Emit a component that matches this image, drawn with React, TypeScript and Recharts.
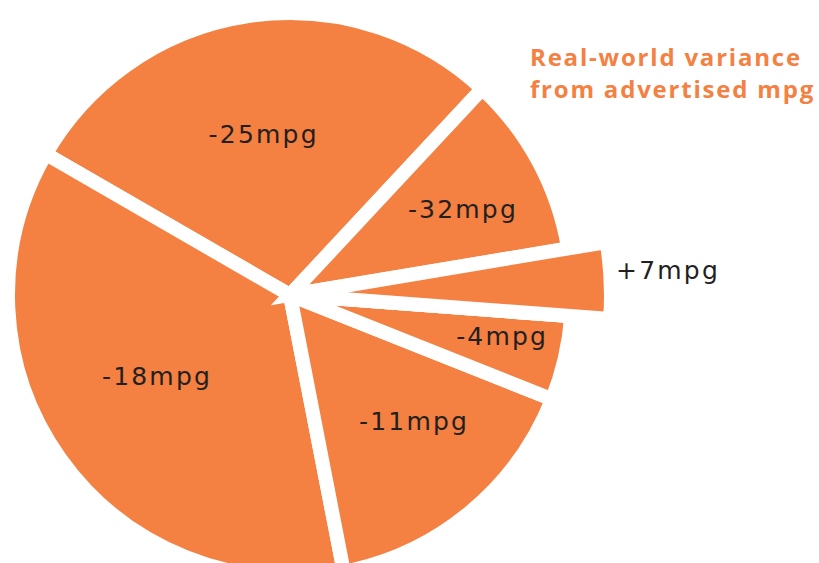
import React from 'react'
import { PieChart, Pie, Cell } from 'recharts'

const WIDTH = 819
const HEIGHT = 563
const ORANGE = '#F48042'
const TEXT = '#231F20'
const CX = 285
const CY = 290
const R = 282

// slices in counter-clockwise order, starting at the top-right gap
const labels = ['-25mpg', '-18mpg', '-11mpg', '-4mpg', '+7mpg', '-32mpg']
// share of the circle each slice takes (read as degrees off the picture)
const shares = [103, 131, 57.3, 17.4, 13.8, 37.5]
const highlighted = '+7mpg'

const data = labels.map((name, i) => ({ name, share: shares[i] }))

// label placement: distance from centre (fraction of radius) and a small turn
const LABEL_R = [0.56, 0.551, 0.647, 0.78, 1.353, 0.687]
const LABEL_TURN = [0, -2.3, 4.5, 1, 0.5, -3.5]
const RADIAN = Math.PI / 180

const renderLabel = (props: any) => {
  const { cx, cy, midAngle, index } = props
  const r = R * LABEL_R[index]
  const a = (midAngle + LABEL_TURN[index]) * RADIAN
  const x = cx + r * Math.cos(-a)
  const y = cy + r * Math.sin(-a)
  return (
    <text
      x={x - 3}
      y={y - 4}
      fill={TEXT}
      textAnchor="middle"
      dominantBaseline="central"
      fontSize={25}
      letterSpacing={2.2}
      fontFamily="'DejaVu Sans', sans-serif"
    >
      {data[index].name}
    </text>
  )
}

const App = () => {
  return (
    <div style={{ position: 'absolute', left: 0, top: 0, width: WIDTH, height: HEIGHT, background: '#fff' }}>
      <PieChart width={WIDTH} height={HEIGHT}>
        <Pie
          isAnimationActive={false}
          data={data}
          dataKey="share"
          cx={CX}
          cy={CY}
          outerRadius={R}
          startAngle={47}
          endAngle={407}
          stroke="#fff"
          strokeWidth={14}
          labelLine={false}
          label={renderLabel}
        >
          {data.map((d) => (
            <Cell key={d.name} fill={ORANGE} />
          ))}
        </Pie>
        <Pie
          isAnimationActive={false}
          data={data}
          dataKey="share"
          cx={CX}
          cy={CY}
          outerRadius={321}
          startAngle={47}
          endAngle={407}
          strokeWidth={14}
          labelLine={false}
        >
          {data.map((d) => (
            <Cell
              key={d.name}
              fill={d.name === highlighted ? ORANGE : 'none'}
              stroke={d.name === highlighted ? '#fff' : 'none'}
            />
          ))}
        </Pie>
      </PieChart>
      <div
        style={{
          position: 'absolute',
          left: 530,
          top: 41,
          color: ORANGE,
          fontFamily: "'Open Sans', sans-serif",
          fontWeight: 700,
          fontSize: 24,
          letterSpacing: 1.8,
          lineHeight: '32px',
          whiteSpace: 'nowrap',
        }}
      >
        Real-world variance
        <br />
        from advertised mpg
      </div>
    </div>
  )
}

export default App
